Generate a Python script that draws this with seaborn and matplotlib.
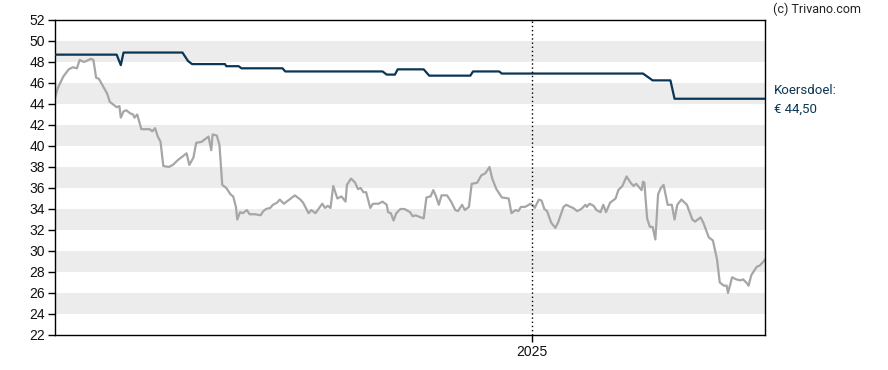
import matplotlib
matplotlib.use("Agg")
import matplotlib.pyplot as plt
import matplotlib.dates as mdates
import numpy as np
import pandas as pd
import seaborn as sns

# chart period
start_date = "2024-01-19"
end_days = 518
marker_date = "2025-01-01"
marker_label = "2025"

# share price (day offset from start, value in EUR)
price_days = [0, 2, 6, 10, 13, 16, 18, 21, 23, 26, 28, 30, 32, 35, 38, 40, 43, 45, 47, 48,
              50, 52, 55, 57, 58, 60, 63, 66, 69, 71, 73, 75, 77, 79, 83, 86, 90, 92, 96, 98,
              101, 103, 107, 112, 114, 115, 118, 120, 122, 125, 128, 130, 132, 133, 135, 137, 140, 142, 146, 150,
              152, 154, 157, 159, 162, 164, 167, 170, 175, 179, 181, 185, 187, 190, 195, 197, 199, 201, 203, 206,
              209, 212, 213, 216, 219, 221, 223, 225, 227, 230, 232, 236, 239, 242, 243, 245, 247, 249, 252, 255,
              259, 261, 263, 269, 271, 274, 276, 278, 280, 282, 286, 289, 292, 294, 297, 299, 302, 304, 308, 311,
              314, 317, 319, 322, 326, 331, 333, 336, 338, 340, 343, 347, 349, 350, 353, 355, 357, 359, 362, 365,
              367, 371, 373, 376, 378, 381, 384, 387, 388, 390, 393, 395, 398, 400, 402, 405, 409, 411, 414, 417,
              420, 422, 424, 426, 428, 429, 430, 432, 434, 436, 438, 440, 442, 444, 447, 450, 452, 454, 457, 461,
              465, 467, 471, 473, 477, 480, 483, 485, 488, 490, 491, 494, 497, 500, 502, 505, 506, 508, 512, 514,
              517, 518]
price = [44.6, 45.5, 46.6, 47.3, 47.5, 47.4, 48.2, 48.0, 48.1, 48.3, 48.2, 46.5, 46.4, 45.7, 45.0, 44.2, 43.9, 43.7, 43.8, 42.7,
         43.3, 43.4, 43.1, 43.0, 42.7, 43.0, 41.6, 41.6, 41.6, 41.4, 41.7, 40.9, 40.4, 38.1, 38.0, 38.2, 38.7, 38.9, 39.3, 38.2,
         38.9, 40.3, 40.4, 40.9, 39.6, 41.1, 41.0, 40.1, 36.3, 36.0, 35.4, 35.2, 34.2, 33.0, 33.7, 33.6, 33.9, 33.5, 33.5, 33.4,
         33.8, 34.0, 34.1, 34.4, 34.6, 34.9, 34.5, 34.8, 35.3, 34.9, 34.6, 33.6, 33.9, 33.6, 34.5, 34.1, 34.3, 34.1, 36.2, 35.0,
         35.2, 34.7, 36.3, 36.9, 36.5, 35.9, 36.0, 35.6, 35.6, 34.1, 34.5, 34.5, 34.7, 34.4, 33.7, 33.6, 32.9, 33.6, 34.0, 34.0,
         33.7, 33.3, 33.4, 33.1, 35.1, 35.2, 35.8, 35.2, 34.4, 35.3, 35.3, 34.7, 33.9, 33.8, 34.4, 33.9, 34.2, 36.4, 36.5, 37.2,
         37.4, 38.0, 36.9, 35.9, 35.1, 35.0, 33.6, 33.9, 33.8, 34.2, 34.2, 34.5, 34.3, 34.1, 34.9, 34.8, 34.0, 33.8, 32.7, 32.2,
         32.7, 34.2, 34.4, 34.2, 34.1, 33.8, 34.0, 34.4, 34.2, 34.5, 34.3, 33.9, 33.7, 34.4, 33.7, 34.6, 35.0, 35.8, 36.2, 37.1,
         36.5, 36.2, 36.4, 36.1, 35.8, 36.6, 36.5, 33.1, 32.3, 32.3, 31.1, 35.4, 36.0, 36.3, 34.4, 34.4, 33.0, 34.4, 34.9, 34.4,
         33.0, 32.8, 33.2, 32.7, 31.3, 31.0, 29.2, 27.0, 26.7, 26.7, 26.0, 27.5, 27.3, 27.2, 27.3, 26.9, 26.7, 27.7, 28.5, 28.6,
         29.0, 29.2]

# analysts' price target (koersdoel)
target_days = [0, 45, 48, 50, 93, 97, 100, 124, 125, 134, 136, 166, 168, 239, 242, 248, 250,
               269, 273, 303, 305, 324, 326, 429, 436, 449, 452, 518]
target = [48.7, 48.7, 47.7, 48.9, 48.9, 48.1, 47.8, 47.8, 47.6, 47.6, 47.4, 47.4, 47.1, 47.1, 46.8, 46.8, 47.3,
          47.3, 46.7, 46.7, 47.1, 47.1, 46.9, 46.9, 46.25, 46.25, 44.5, 44.5]
target_label = "Koersdoel:\n€ 44,50"

y_ticks = list(range(22, 53, 2))
band_edges = [(24, 26), (28, 30), (32, 34), (36, 38), (40, 42), (44, 46), (48, 50)]

t0 = pd.Timestamp(start_date)
df_price = pd.DataFrame({"date": t0 + pd.to_timedelta(price_days, unit="D"), "value": price})
df_target = pd.DataFrame({"date": t0 + pd.to_timedelta(target_days, unit="D"), "value": target})

sns.set_theme(style="white")
plt.rcParams["font.family"] = ["Liberation Sans", "DejaVu Sans"]

fig = plt.figure(figsize=(8.88, 3.70), dpi=100)
ax = fig.add_axes([55 / 888, 1 - 335 / 370, 710 / 888, 315 / 370])

for lo, hi in band_edges:
    ax.axhspan(lo, hi, color="#ececec", lw=0, zorder=0)

sns.lineplot(data=df_price, x="date", y="value", ax=ax, color="#a6a6a6", lw=1.6, zorder=2)
sns.lineplot(data=df_target, x="date", y="value", ax=ax, color="#0b3554", lw=1.6, zorder=3)

mark = pd.Timestamp(marker_date)
ax.axvline(mark, color="black", lw=1, ls=(0, (1, 2)), zorder=4)

ax.set_xlim(t0, t0 + pd.Timedelta(days=end_days))
ax.set_ylim(22, 52)
ax.set_yticks(y_ticks)
ax.set_yticklabels([str(v) for v in y_ticks], fontsize=10, color="#111111")
ax.set_xticks([mark])
ax.set_xticklabels([marker_label], fontsize=10, color="#111111")
ax.tick_params(axis="both", direction="out", length=5, width=1, color="black", pad=2,
               left=True, bottom=True)
ax.set_xlabel("")
ax.set_ylabel("")
for s in ax.spines.values():
    s.set_color("black")
    s.set_linewidth(1)
    s.set_visible(True)

fig.text(773 / 888, 1 - 9 / 370, "(c) Trivano.com", fontsize=9, family=["Roboto", "DejaVu Sans"],
         color="#222222", va="center", ha="left")
fig.text(774 / 888, 1 - 100 / 370, target_label, fontsize=9.5, family=["Roboto", "DejaVu Sans"],
         color="#0b3554", va="center", ha="left", linespacing=1.5)

fig.savefig("out.png", dpi=100)
